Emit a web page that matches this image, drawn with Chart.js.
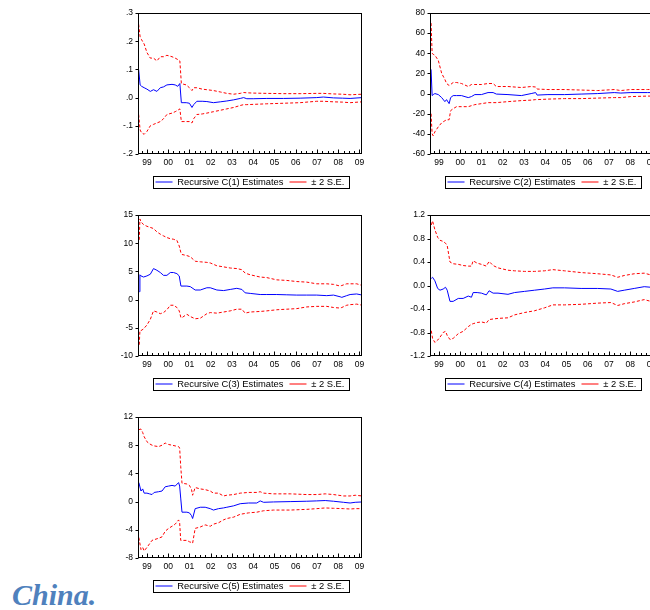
<!DOCTYPE html>
<html><head><meta charset="utf-8">
<script src="https://cdn.jsdelivr.net/npm/chart.js@4.4.0/dist/chart.umd.min.js"></script>
<style>
html,body{margin:0;padding:0;background:#fff;width:650px;height:610px;overflow:hidden;position:relative;}
.panel{position:absolute;width:270px;height:200px;}
.panel canvas{display:block;}
#china{position:absolute;left:12px;top:580px;font:italic bold 30px "Liberation Serif","Times New Roman",serif;line-height:30px;color:#4f81bd;white-space:nowrap;}
</style></head><body>
<div class="panel" style="left:100px;top:0px"><canvas id="c1" width="270" height="200"></canvas></div>
<div class="panel" style="left:392px;top:0px"><canvas id="c2" width="270" height="200"></canvas></div>
<div class="panel" style="left:100px;top:202px"><canvas id="c3" width="270" height="200"></canvas></div>
<div class="panel" style="left:392px;top:202px"><canvas id="c4" width="270" height="200"></canvas></div>
<div class="panel" style="left:100px;top:404px"><canvas id="c5" width="270" height="200"></canvas></div>
<div id="china">China.</div>
<script>
// ---------- shared axis data ----------
const yearTicks  = [1999,2000,2001,2002,2003,2004,2005,2006,2007,2008,2009];
const yearLabels = ['99','00','01','02','03','04','05','06','07','08','09'];
const xMin = 1998.58, xMax = 2009.12;

// ---------- panel 1 : C(1) ----------
const dates1 = [1998.61,1998.68,1998.75,1998.87,1999.0,1999.16,1999.31,1999.47,1999.63,1999.78,1999.94,2000.18,2000.33,2000.45,2000.55,2000.62,2000.70,2000.85,2001.0,2001.12,2001.2,2001.35,2001.6,2001.82,2002.13,2002.45,2002.76,2003.08,2003.39,2003.55,2003.70,2004.0,2004.64,2005.43,2006.21,2006.99,2007.3,2007.78,2008.2,2008.56,2009.13];
const est1 = [0.10,0.045,0.04,0.035,0.03,0.022,0.028,0.022,0.035,0.038,0.045,0.047,0.045,0.04,0.05,-0.018,-0.018,-0.018,-0.02,-0.035,-0.025,-0.013,-0.013,-0.014,-0.018,-0.015,-0.012,-0.008,-0.003,0.0,-0.004,-0.004,-0.003,-0.003,-0.002,0.0,0.002,-0.001,-0.002,-0.003,0.0];
const up1  = [0.26,0.215,0.205,0.19,0.16,0.14,0.14,0.13,0.145,0.145,0.15,0.145,0.14,0.135,0.13,0.05,0.048,0.045,0.035,0.025,0.035,0.035,0.03,0.028,0.025,0.02,0.015,0.012,0.015,0.018,0.017,0.016,0.015,0.014,0.014,0.015,0.015,0.013,0.012,0.01,0.012];
const lo1  = [-0.06,-0.115,-0.125,-0.13,-0.12,-0.10,-0.095,-0.09,-0.085,-0.075,-0.06,-0.055,-0.05,-0.045,-0.04,-0.085,-0.085,-0.085,-0.085,-0.09,-0.075,-0.06,-0.058,-0.055,-0.05,-0.045,-0.04,-0.035,-0.028,-0.025,-0.025,-0.024,-0.022,-0.02,-0.018,-0.013,-0.013,-0.015,-0.016,-0.018,-0.015];
const yTicks1  = [-0.2,-0.1,0,0.1,0.2,0.3];
const yLabels1 = ['-.2','-.1','.0','.1','.2','.3'];

// ---------- panel 2 : C(2) ----------
const dates2 = [1998.63,1998.68,1998.73,1998.81,1998.97,1999.13,1999.28,1999.36,1999.48,1999.55,1999.67,1999.83,2000.06,2000.38,2000.53,2000.69,2001.0,2001.31,2001.55,2001.7,2002.25,2002.88,2003.34,2003.55,2003.62,2004.13,2004.91,2005.69,2006.47,2007.25,2007.56,2008.03,2008.81,2009.13];
const est2 = [24,-2,-1,0,-1,-4,-8,-6,-10,-4,-2,-2,-2,-4,-3,-1,-1,1,1,-0.5,-1,-2,0,1,-1.5,-1,-1,-0.5,0,1,0.5,1,1,1];
const up2  = [70,40,39,38,33,20,14,10,8,9,11,11,10,7,9,9,9,10,10,7,7,6,7,6.5,4.5,4,4,3.5,3,4,3,4,4,4];
const lo2  = [-20,-40,-42,-38,-33,-29,-27,-26,-26,-17,-15,-13,-13,-13,-12,-11,-10,-9,-9,-9,-8,-7,-6.5,-6,-6,-5.5,-5,-5,-4.5,-4,-4,-3,-2.5,-2.5];
const yTicks2  = [-60,-40,-20,0,20,40,60,80];
const yLabels2 = ['-60','-40','-20','0','20','40','60','80'];

// ---------- panel 3 : C(3) ----------
const dates3 = [1998.64,1998.67,1998.72,1998.84,1999.0,1999.16,1999.31,1999.47,1999.63,1999.78,1999.94,2000.10,2000.25,2000.41,2000.52,2000.60,2000.65,2000.88,2001.04,2001.27,2001.51,2001.82,2001.98,2002.29,2002.61,2002.92,2003.23,2003.47,2003.62,2003.86,2004.33,2004.64,2005.11,2005.58,2006.05,2006.52,2006.99,2007.46,2007.78,2008.09,2008.17,2008.40,2008.56,2008.87,2009.13];
const est3 = [1.4,4.4,4.2,4.0,4.2,4.5,5.5,5.2,4.8,4.3,4.3,4.8,4.8,4.6,4.2,2.4,2.4,2.4,2.3,1.7,1.7,2.1,2.1,1.7,1.6,1.8,2.0,1.8,1.2,1.1,0.9,0.9,0.9,0.85,0.8,0.8,0.8,0.7,0.8,0.5,0.4,0.7,0.9,1.0,0.8];
const up3  = [10.6,14.3,13.8,13.3,13.0,12.8,12.6,12.0,11.6,11.3,11.0,10.8,10.7,10.5,9.5,8.3,8.0,7.8,7.6,6.8,6.7,6.6,6.5,6.0,5.8,5.6,5.5,5.3,4.7,4.4,4.0,3.9,3.5,3.4,3.2,3.1,2.8,2.8,2.7,2.4,2.5,2.8,2.8,2.8,2.5];
const lo3  = [-8,-5.5,-5.5,-5.2,-4.5,-3.5,-2.0,-2.2,-2.5,-2.3,-1.8,-1.0,-1.0,-1.4,-2.0,-3.2,-3.2,-2.6,-3.0,-3.4,-3.3,-2.5,-2.3,-2.4,-2.2,-2.0,-1.7,-1.7,-2.4,-2.2,-2.1,-2.0,-1.8,-1.7,-1.6,-1.3,-1.2,-1.2,-1.4,-1.5,-1.4,-1.0,-0.9,-0.8,-1.0];
const yTicks3  = [-10,-5,0,5,10,15];
const yLabels3 = ['-10','-5','0','5','10','15'];

// ---------- panel 4 : C(4) ----------
const dates4 = [1998.64,1998.70,1998.81,1998.94,1999.05,1999.20,1999.31,1999.39,1999.52,1999.67,1999.91,2000.14,2000.38,2000.53,2000.61,2000.80,2001.0,2001.23,2001.36,2001.55,2001.78,2002.25,2002.56,2003.03,2003.5,2003.97,2004.36,2004.91,2005.69,2006.47,2007.09,2007.41,2007.72,2008.19,2008.66,2008.97,2009.13];
const est4 = [0.12,0.14,0.08,-0.05,-0.08,-0.06,-0.03,-0.08,-0.27,-0.27,-0.22,-0.22,-0.18,-0.2,-0.12,-0.12,-0.13,-0.16,-0.09,-0.13,-0.13,-0.15,-0.12,-0.1,-0.08,-0.06,-0.04,-0.04,-0.05,-0.05,-0.06,-0.1,-0.08,-0.05,-0.02,-0.03,-0.03];
const up4  = [1.03,1.1,0.95,0.82,0.77,0.75,0.72,0.68,0.4,0.37,0.36,0.34,0.33,0.33,0.42,0.38,0.36,0.33,0.41,0.34,0.3,0.26,0.25,0.24,0.24,0.25,0.27,0.25,0.22,0.2,0.18,0.14,0.17,0.2,0.21,0.18,0.18];
const lo4  = [-0.77,-0.9,-0.97,-0.93,-0.88,-0.8,-0.78,-0.85,-0.92,-0.9,-0.82,-0.78,-0.7,-0.66,-0.65,-0.63,-0.62,-0.64,-0.58,-0.57,-0.56,-0.55,-0.5,-0.46,-0.43,-0.38,-0.33,-0.33,-0.32,-0.3,-0.29,-0.34,-0.31,-0.28,-0.24,-0.27,-0.26];
const yTicks4  = [-1.2,-0.8,-0.4,0,0.4,0.8,1.2];
const yLabels4 = ['-1.2','-0.8','-0.4','0.0','0.4','0.8','1.2'];

// ---------- panel 5 : C(5) ----------
const dates5 = [1998.62,1998.72,1998.80,1998.87,1999.0,1999.12,1999.24,1999.34,1999.55,1999.71,1999.86,2000.02,2000.18,2000.33,2000.49,2000.54,2000.59,2000.65,2000.88,2001.0,2001.1,2001.15,2001.27,2001.51,2001.74,2001.98,2002.13,2002.37,2002.6,2002.76,2003.08,2003.39,2003.78,2004.17,2004.33,2004.49,2004.96,2005.74,2006.52,2006.99,2007.39,2007.78,2008.25,2008.56,2008.8,2009.13];
const est5 = [2.7,1.5,1.8,1.2,1.2,1.1,1.0,1.3,1.4,1.5,2.1,2.2,2.3,2.2,2.7,2.2,0.5,-1.5,-1.5,-1.6,-2.0,-2.4,-1.0,-0.8,-0.8,-1.0,-1.2,-1.0,-0.9,-0.8,-0.6,-0.3,-0.2,-0.2,0.1,-0.1,-0.05,0.0,0.05,0.1,0.15,0.05,-0.1,-0.2,-0.1,-0.05];
const up5  = [10.2,10.3,9.8,9.2,8.5,8.2,8.0,7.9,7.8,8.0,8.3,8.1,8.0,7.9,7.8,7.6,5.0,2.6,2.5,2.3,1.7,0.9,2.0,1.8,1.7,1.5,1.2,1.2,0.8,0.9,1.0,1.2,1.3,1.3,1.4,1.2,1.1,1.1,1.0,1.0,1.1,1.0,0.8,0.8,0.9,0.8];
const lo5  = [-5.1,-6.8,-6.5,-7.0,-6.5,-6.0,-5.5,-5.4,-5.2,-5.0,-4.2,-3.8,-3.5,-3.2,-2.6,-3.0,-5.5,-5.5,-5.5,-5.7,-5.8,-5.9,-3.8,-3.6,-3.3,-3.5,-3.2,-3.0,-2.6,-2.4,-2.2,-1.8,-1.6,-1.5,-1.4,-1.3,-1.2,-1.2,-1.1,-1.0,-0.9,-0.95,-1.0,-1.05,-1.0,-1.0];
const yTicks5  = [-8,-4,0,4,8,12];
const yLabels5 = ['-8','-4','0','4','8','12'];

// ---------- drawing ----------
const FONT = '"Liberation Sans", Arial, sans-serif';
const LEG_FS = 9.4, LEG_PAD = 6, LEG_OFF = 28;
const CANVAS_H = 200, AREA_BOTTOM = 154, AREA_TOP = 13;
const X_AXIS_H = CANVAS_H - AREA_BOTTOM - (LEG_FS + LEG_PAD + 10);

const evPlugin = {
  id: 'evFrame',
  beforeDraw(chart) {
    const lg = chart.legend, ca = chart.chartArea;
    if (!lg) return;
    const c = (ca.left + ca.right) / 2;
    lg.left = c - lg.width / 2; lg.right = lg.left + lg.width;
    lg.top = ca.bottom + LEG_OFF - LEG_PAD - LEG_FS / 2; lg.bottom = lg.top + lg.height;
  },
  afterDraw(chart) {
    const ctx = chart.ctx, ca = chart.chartArea;
    ctx.save();
    ctx.strokeStyle = '#000'; ctx.lineWidth = 1; ctx.setLineDash([]);
    const L = Math.round(ca.left) + 0.5, R = Math.round(ca.right) - 0.5;
    const T = Math.round(ca.top) + 0.5, B = Math.round(ca.bottom) - 0.5;
    ctx.strokeRect(L, T, R - L, B - T);
    ctx.beginPath();
    const ys = chart.scales.y;
    ys.ticks.forEach(t => {
      const py = Math.round(ys.getPixelForValue(t.value)) + 0.5;
      ctx.moveTo(L - 3, py); ctx.lineTo(L, py);
    });
    const xs = chart.scales.x;
    for (let q = Math.ceil(xs.min * 4); q <= xs.max * 4; q++) {
      const px = Math.round(xs.getPixelForValue(q / 4)) + 0.5;
      const len = (q % 4 === 0) ? 4 : 2.5;
      ctx.moveTo(px, B); ctx.lineTo(px, B - len);
    }
    ctx.stroke();
    const lg = chart.legend;
    if (lg && lg.lineWidths) {
      const lw = lg.lineWidths[0];
      const x0 = (lg.left + LEG_PAD + lg.right - lw) / 2;
      const cy = lg.top + LEG_PAD + LEG_FS / 2;
      ctx.strokeRect(Math.round(x0 - 3) + 0.5, Math.round(cy - 6) + 0.5, Math.round(lw - LEG_PAD + 7), 12);
    }
    ctx.restore();
  }
};

function pts(d, v) { return d.map((x, i) => ({ x: x, y: v[i] })); }

function makePanel(id, n, dates, est, up, lo, yT, yL) {
  new Chart(document.getElementById(id), {
    type: 'line',
    data: {
      datasets: [
        { label: 'Recursive C(' + n + ') Estimates', data: pts(dates, est), borderColor: '#0000ff', borderWidth: 1, pointRadius: 0, tension: 0, fill: false },
        { label: '\u00B1 2 S.E.', data: pts(dates, up), borderColor: '#ff0000', borderWidth: 1, borderDash: [3, 2], pointRadius: 0, tension: 0, fill: false },
        { label: '\u00B1 2 S.E.', data: pts(dates, lo), borderColor: '#ff0000', borderWidth: 1, borderDash: [3, 2], pointRadius: 0, tension: 0, fill: false }
      ]
    },
    options: {
      responsive: false, animation: false, devicePixelRatio: 1,
      layout: { padding: { top: AREA_TOP, right: 8, left: 0, bottom: 0 } },
      plugins: {
        tooltip: { enabled: false },
        legend: {
          position: 'bottom',
          labels: {
            usePointStyle: true, pointStyle: 'line', pointStyleWidth: 17,
            padding: LEG_PAD, color: '#000', font: { family: FONT, size: LEG_FS },
            filter: (item) => item.datasetIndex < 2
          }
        }
      },
      scales: {
        x: {
          type: 'linear', min: xMin, max: xMax,
          grid: { display: false, drawTicks: false }, border: { display: false },
          afterBuildTicks: s => { s.ticks = yearTicks.map(v => ({ value: v })); },
          ticks: { padding: 4, autoSkip: false, maxRotation: 0, color: '#000', font: { family: FONT, size: 8.5 },
                   callback: (v) => { const i = yearTicks.indexOf(Math.round(v)); return i >= 0 ? yearLabels[i] : ''; } },
          afterFit: s => { s.height = X_AXIS_H; }
        },
        y: {
          min: yT[0], max: yT[yT.length - 1],
          grid: { display: false, drawTicks: false }, border: { display: false },
          afterBuildTicks: s => { s.ticks = yT.map(v => ({ value: v })); },
          ticks: { padding: 5, color: '#000', font: { family: FONT, size: 8.5 },
                   callback: (v) => { let k = 0, best = Infinity; yT.forEach((t, i) => { const d = Math.abs(t - v); if (d < best) { best = d; k = i; } }); return yL[k]; } },
          afterFit: s => { s.width = 38; }
        }
      }
    },
    plugins: [evPlugin]
  });
}

makePanel('c1', 1, dates1, est1, up1, lo1, yTicks1, yLabels1);
makePanel('c2', 2, dates2, est2, up2, lo2, yTicks2, yLabels2);
makePanel('c3', 3, dates3, est3, up3, lo3, yTicks3, yLabels3);
makePanel('c4', 4, dates4, est4, up4, lo4, yTicks4, yLabels4);
makePanel('c5', 5, dates5, est5, up5, lo5, yTicks5, yLabels5);
</script>
</body></html>
